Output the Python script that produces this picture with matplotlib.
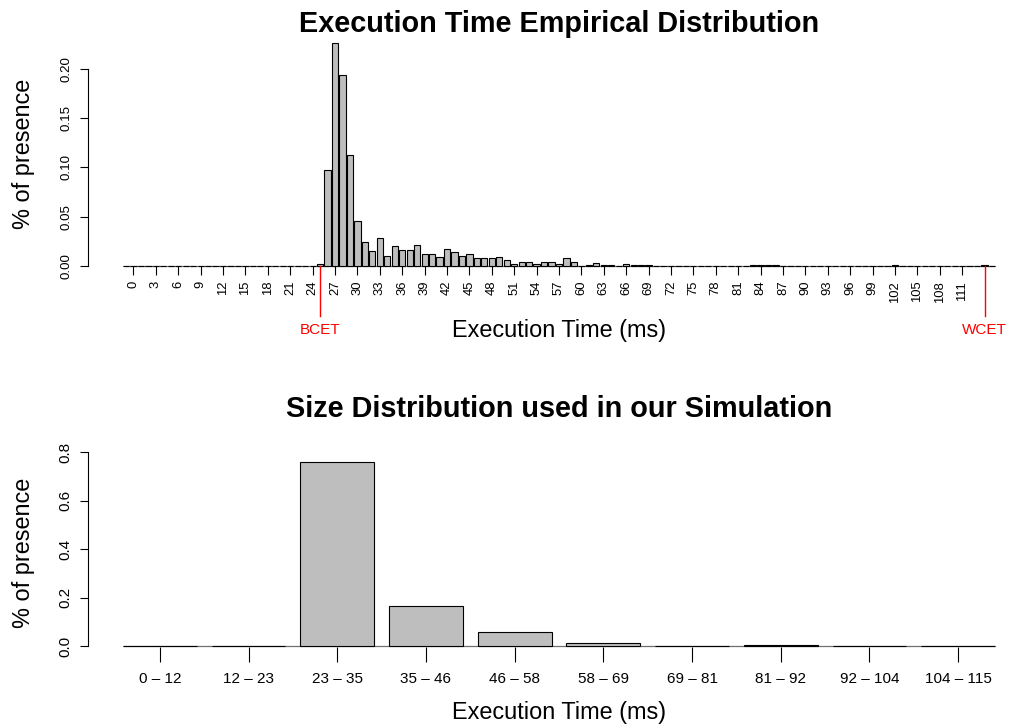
import matplotlib
matplotlib.use('Agg')
import matplotlib.pyplot as plt
from matplotlib.transforms import blended_transform_factory

plt.rcParams['font.family'] = ['Liberation Sans', 'DejaVu Sans']

# ---------------- data ----------------
exec_time = list(range(-1, 116))
presence = [
    # -1 .. 24
    0, 0, 0, 0, 0, 0, 0, 0, 0, 0, 0, 0, 0, 0, 0, 0, 0, 0, 0, 0, 0, 0, 0, 0, 0, 0,
    # 25 .. 34
    0.0017, 0.0976, 0.2266, 0.194, 0.1125, 0.0457, 0.0244, 0.0152, 0.0278, 0.0098,
    # 35 .. 44
    0.0198, 0.0155, 0.0155, 0.021, 0.012, 0.012, 0.0088, 0.017, 0.0138, 0.0098,
    # 45 .. 54
    0.0115, 0.0081, 0.0081, 0.0081, 0.0091, 0.0061, 0.0014, 0.0042, 0.0042, 0.002,
    # 55 .. 64
    0.0035, 0.0035, 0.002, 0.0081, 0.0035, 0, 0.001, 0.003, 0.0007, 0.0008,
    # 65 .. 69
    0, 0.002, 0.0008, 0.0008, 0.0008,
    # 70 .. 82
    0, 0, 0, 0, 0, 0, 0, 0, 0, 0, 0, 0, 0,
    # 83 .. 86
    0.0005, 0.0005, 0.0005, 0.0005,
    # 87 .. 101
    0, 0, 0, 0, 0, 0, 0, 0, 0, 0, 0, 0, 0, 0, 0,
    # 102
    0.0008,
    # 103 .. 113
    0, 0, 0, 0, 0, 0, 0, 0, 0, 0, 0,
    # 114, 115
    0.001, 0,
]
top_ticks = list(range(0, 112, 3))
top_yticks = [0.00, 0.05, 0.10, 0.15, 0.20]
bcet = 25
wcet = 114

size_bins = ["0 – 12", "12 – 23", "23 – 35", "35 – 46", "46 – 58",
             "58 – 69", "69 – 81", "81 – 92", "92 – 104", "104 – 115"]
size_presence = [0, 0, 0.758, 0.1665, 0.0596, 0.015, 0.001, 0.003, 0.001, 0.001]
bottom_yticks = [0.0, 0.2, 0.4, 0.6, 0.8]

# ---------------- figure ----------------
W, H = 1010, 725
fig = plt.figure(figsize=(W / 100, H / 100), dpi=100)
BAR_W = 1 / 1.2
FILL = '#bebebe'


def px_axes(left, right, top, bottom):
    return fig.add_axes([left / W, (H - bottom) / H, (right - left) / W, (bottom - top) / H])


# ---- top chart ----
ax1 = px_axes(88, 1030, 33.9, 274.6)
ax1.set_xlim(exec_time[0] - BAR_W / 2 - 4.673, exec_time[-1] + BAR_W / 2 + 4.673)
ax1.set_ylim(-0.00906, 0.2357)
ax1.hlines(0, exec_time[0] - BAR_W / 2, exec_time[-1] + BAR_W / 2, color='#707070', lw=0.9, zorder=1)
ax1.bar(exec_time, presence, width=BAR_W, color=FILL, edgecolor='black', linewidth=0.8, zorder=2)
for s in ['top', 'right', 'bottom']:
    ax1.spines[s].set_visible(False)
ax1.spines['left'].set_bounds(0, 0.2)
ax1.spines['left'].set_linewidth(0.8)
ax1.set_yticks(top_yticks)
ax1.set_yticklabels([f"{v:.2f}" for v in top_yticks], rotation=90, va='center', fontsize=9.6)
ax1.tick_params(axis='y', direction='out', length=5.5, width=0.8, pad=6)
ax1.set_xticks(top_ticks)
ax1.set_xticklabels([str(t) for t in top_ticks], rotation=90, fontsize=9.4)
ax1.tick_params(axis='x', direction='in', length=6.4, width=0.8, pad=4.5)

tr1 = blended_transform_factory(ax1.transData, fig.transFigure)
for t, name in [(bcet, 'BCET'), (wcet, 'WCET')]:
    fig.add_artist(plt.Line2D([t, t], [(H - 266) / H, (H - 316) / H], transform=tr1,
                              color='red', lw=1))
    fig.text(t, (H - 330) / H, name, transform=tr1, color='red', fontsize=11,
             ha='center', va='center')

fig.text(559 / W, (H - 24) / H, 'Execution Time Empirical Distribution', fontsize=20.8,
         fontweight='bold', ha='center', va='center')
fig.text(559 / W, (H - 330) / H, 'Execution Time (ms)', fontsize=16.9, ha='center', va='center')
fig.text(24 / W, (H - 154) / H, '% of presence', fontsize=16.9, ha='center', va='center',
         rotation=90)

# ---- bottom chart ----
ax2 = px_axes(88, 1030, 452, 653.5)
xpos = list(range(len(size_bins)))
ax2.set_xlim(-BAR_W / 2 - 0.393, len(size_bins) - 1 + BAR_W / 2 + 0.393)
ax2.set_ylim(-0.0303, 0.788)
ax2.hlines(0, -BAR_W / 2, len(size_bins) - 1 + BAR_W / 2, color='#707070', lw=0.9, zorder=1)
ax2.bar(xpos, size_presence, width=BAR_W, color=FILL, edgecolor='black', linewidth=0.8, zorder=2)
for s in ['top', 'right', 'bottom']:
    ax2.spines[s].set_visible(False)
ax2.spines['left'].set_bounds(0, 0.8)
ax2.spines['left'].set_linewidth(0.8)
ax2.set_yticks(bottom_yticks)
ax2.set_yticklabels([f"{v:.1f}" for v in bottom_yticks], rotation=90, va='center', fontsize=11)
ax2.tick_params(axis='y', direction='out', length=5.5, width=0.8, pad=6)
ax2.set_xticks(xpos)
ax2.set_xticklabels(size_bins, fontsize=11)
ax2.tick_params(axis='x', direction='inout', length=10.8, width=0.8, pad=8)

fig.text(559 / W, (H - 409) / H, 'Size Distribution used in our Simulation', fontsize=20.8,
         fontweight='bold', ha='center', va='center')
fig.text(559 / W, (H - 712) / H, 'Execution Time (ms)', fontsize=16.9, ha='center', va='center')
fig.text(24 / W, (H - 553) / H, '% of presence', fontsize=16.9, ha='center', va='center',
         rotation=90)

fig.savefig('out.png', dpi=100)
